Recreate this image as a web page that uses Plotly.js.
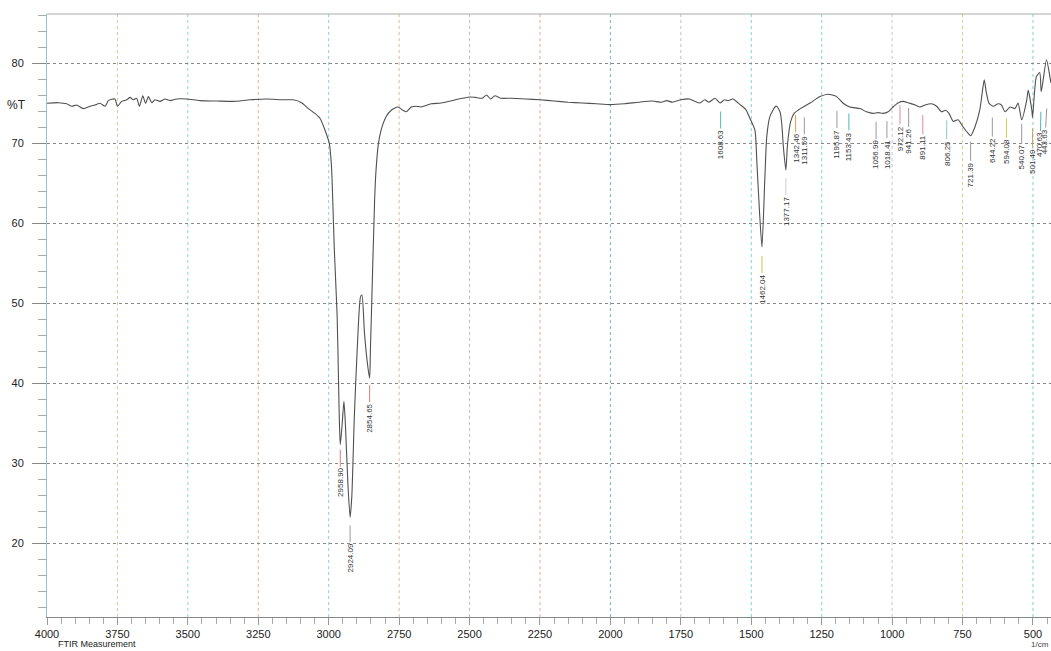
<!DOCTYPE html>
<html>
<head>
<meta charset="utf-8">
<script src="https://cdn.plot.ly/plotly-3.0.1.min.js"></script>
<style>html,body{margin:0;padding:0;background:#fff;}#chart{width:1051px;height:651px;}</style>
</head>
<body>
<div id="chart"></div>
<script>
// ---- spectrum data (wavenumber, %T) ----
const wavenumbers = [4000,3960,3930,3912,3895,3871,3847,3830,3812,3794,3782,3759,3750,3735,3717,3705,3694,3682,3672,3660,3650,3640,3628,3617,3599,3581,3563,3540,3504,3457,3398,3339,3279,3220,3161,3126,3096,3072,3049,3031,3013,2998,2990,2980,2970,2965,2962,2958.9,2953,2946,2941,2932,2924.09,2918,2909,2899,2887,2882,2873,2861,2854.65,2852,2847,2837,2832,2824,2814,2796,2778,2755,2737,2725,2707,2690,2672,2636,2601,2550,2500,2480,2455,2440,2425,2410,2390,2350,2300,2250,2200,2150,2100,2050,2000,1950,1900,1850,1820,1800,1780,1750,1720,1700,1682,1665,1650,1629,1611,1595,1583,1565,1540,1520,1505,1487,1480,1471,1462.04,1452,1445,1434,1416,1410,1398,1392,1386,1377.17,1372,1366,1360,1348,1334,1316,1291,1256,1228,1197,1175,1150,1114,1091,1068,1049,1032,1014,997,978,960,936,918,901,883,860,842,825,810,798,783,766,748,730,721.39,706,689,679,673,665,656,641,624,612,599,581,564,553,540.07,522,517,504,501.49,488,476,470.63,452,440,436];
const transmittance = [74.96,75.04,74.9,74.6,74.75,74.3,74.6,74.75,74.96,74.6,75.3,75.5,74.6,75.2,75.4,75.7,75.4,75.6,74.6,75.9,74.96,75.8,75.04,75.4,75.2,75.5,75.3,75.5,75.5,75.3,75.25,75.2,75.4,75.5,75.4,75.4,75.04,74.3,73.7,73.1,71.6,69.96,67.0,56.6,48.3,40.0,35.0,32.3,34.5,37.7,35.0,27.5,23.2,25.8,35.8,44.1,50.8,51.0,46.2,42.0,40.6,44.1,50.4,62.9,66.6,69.8,71.6,73.3,74.1,74.5,74.1,73.9,74.5,74.6,74.5,74.9,75.0,75.4,75.75,75.7,75.6,76.0,75.5,75.9,75.6,75.6,75.5,75.4,75.25,75.1,75.0,74.9,74.8,74.9,75.1,75.25,75.1,75.3,75.1,75.4,75.5,75.2,75.0,75.4,75.1,75.6,75.0,75.4,75.3,75.5,74.8,74.2,73.1,71.6,67.5,61.6,57.0,65.4,70.8,73.3,74.5,74.6,73.9,72.5,69.5,66.6,69.5,71.5,72.7,73.7,74.1,74.5,75.0,75.8,76.1,75.8,75.0,74.5,74.3,73.9,73.7,73.8,73.7,73.9,74.5,75.04,75.2,74.95,74.75,74.5,74.75,74.9,74.6,73.9,74.1,73.7,72.7,72.9,72.0,71.2,70.9,72.0,74.1,76.6,77.9,76.2,74.96,74.6,74.9,74.75,73.9,74.5,74.3,75.0,72.9,75.4,76.6,74.1,73.2,78.3,78.8,76.4,80.4,78.3,77.5];

// ---- peak labels ----
const peakWavenumbers = [2958.90,2924.09,2854.65,1608.63,1462.04,1377.17,1342.46,1311.59,1195.87,1153.43,1056.99,1018.41,972.12,941.26,891.11,806.25,721.39,644.22,594.08,540.07,501.49,470.63,443.63];
const peakLabels = peakWavenumbers.map(v => v.toFixed(2));

// ---- axis ticks ----
const yTickValues = [20,30,40,50,60,70,80];
const xTickValues = [4000,3750,3500,3250,3000,2750,2500,2250,2000,1750,1500,1250,1000,750,500];

// ---- layout styling (not data) ----
const labelDropPx = [38,41,40,42,42,41,36,44,47,40,42,42,36,38,42,42,39,45,41,37,44,53,70];
const labelShiftPx = [0,0,0,0,0,0,0,0,0,0,0,0,0,0,0,0,0,0,0,0,0,-1,-4];
const labelColors = ['#e07a7a','#999999','#e07a7a','#4cb8b8','#c8c840','#cccccc','#e0a040','#999999','#999999','#4cb8b8','#999999','#999999','#e08aa0','#999999','#e08aa0','#8cc8c8','#999999','#999999','#d8d040','#999999','#d0a060','#4cb8b8','#999999'];
const vGridColors = {3750:'#d6c6a0',3500:'#9fcfcf',3250:'#e0b0a0',3000:'#8fd0d0',2750:'#d8c090',2500:'#bdbdbd',2250:'#e0a8a0',2000:'#70b8d8',1750:'#c0c0c0',1500:'#80d0d0',1250:'#80d0d0',1000:'#c8c8c8',750:'#e0c890',500:'#80d0d0'};

function interpT(w){
  for(let i=0;i<wavenumbers.length-1;i++){
    const a=wavenumbers[i], b=wavenumbers[i+1];
    if(w<=a && w>=b){ const t=(a-w)/(a-b); return transmittance[i]+(transmittance[i+1]-transmittance[i])*t; }
  }
  return transmittance[transmittance.length-1];
}

const FONT = 'Liberation Sans, Arial, sans-serif';

const shapes = [];
xTickValues.slice(1).forEach(w => {
  shapes.push({type:'line', xref:'x', yref:'paper', x0:w, x1:w, y0:0, y1:1, layer:'below',
    line:{color:vGridColors[w]||'#ccc', width:1, dash:'dot'}});
});
shapes.push({type:'line', xref:'paper', yref:'paper', x0:0, x1:1, y0:1, y1:1, line:{color:'#aaaaaa', width:1}});

const annotations = peakWavenumbers.map((w,i) => {
  const drop = labelDropPx[i];
  return {x:w, y:interpT(w), xref:'x', yref:'y', text:peakLabels[i], textangle:-90,
    showarrow:true, arrowhead:0, arrowwidth:1, arrowcolor:labelColors[i], ax:labelShiftPx[i], ay:drop,
    standoff:Math.max(2, drop-33), font:{family:FONT, size:8, color:'#333'}};
});
annotations.push({xref:'paper', yref:'y', x:-0.030, y:74.8, text:'%T', showarrow:false,
  xanchor:'center', yanchor:'middle', font:{family:FONT, size:12, color:'#222'}});
annotations.push({xref:'paper', yref:'paper', x:0.009, y:-0.0564, text:'FTIR Measurement', showarrow:false,
  xanchor:'left', yanchor:'bottom', font:{family:FONT, size:9, color:'#222'}});
annotations.push({xref:'paper', yref:'paper', x:1.0, y:-0.0564, text:'1/cm', showarrow:false,
  xanchor:'right', yanchor:'bottom', font:{family:FONT, size:8, color:'#444'}});

const trace = {x:wavenumbers, y:transmittance, type:'scatter', mode:'lines',
  line:{color:'#505050', width:1.1, shape:'spline', smoothing:0.6}, hoverinfo:'x+y'};

const layout = {
  width:1051, height:651,
  margin:{l:47, r:0, t:14, b:34, pad:0},
  paper_bgcolor:'#ffffff', plot_bgcolor:'#ffffff',
  showlegend:false,
  font:{family:FONT, color:'#222'},
  xaxis:{range:[4000,436], tickvals:xTickValues, ticktext:xTickValues.map(String),
    showgrid:false, zeroline:false, showline:true, linecolor:'#888888', linewidth:1,
    ticks:'outside', ticklen:7, tickcolor:'#999999', tickfont:{family:FONT, size:11, color:'#222'},
    ticklabelstandoff:0,
    minor:{dtick:50, tick0:0, ticks:'outside', ticklen:6, tickcolor:'#aaaaaa', showgrid:false}},
  yaxis:{range:[10.75,86.125], tickvals:yTickValues, ticktext:yTickValues.map(String),
    showgrid:true, gridcolor:'#888888', griddash:'dot', gridwidth:1, zeroline:false,
    showline:true, linecolor:'#8fcaca', linewidth:1,
    ticks:'outside', ticklen:14, tickcolor:'#888888', tickfont:{family:FONT, size:11, color:'#222'},
    ticklabelstandoff:6,
    minor:{dtick:2, tick0:0, ticks:'outside', ticklen:8, tickcolor:'#aaaaaa', showgrid:false}},
  shapes:shapes,
  annotations:annotations
};

Plotly.newPlot('chart', [trace], layout, {displayModeBar:false, staticPlot:true});
</script>
</body>
</html>
